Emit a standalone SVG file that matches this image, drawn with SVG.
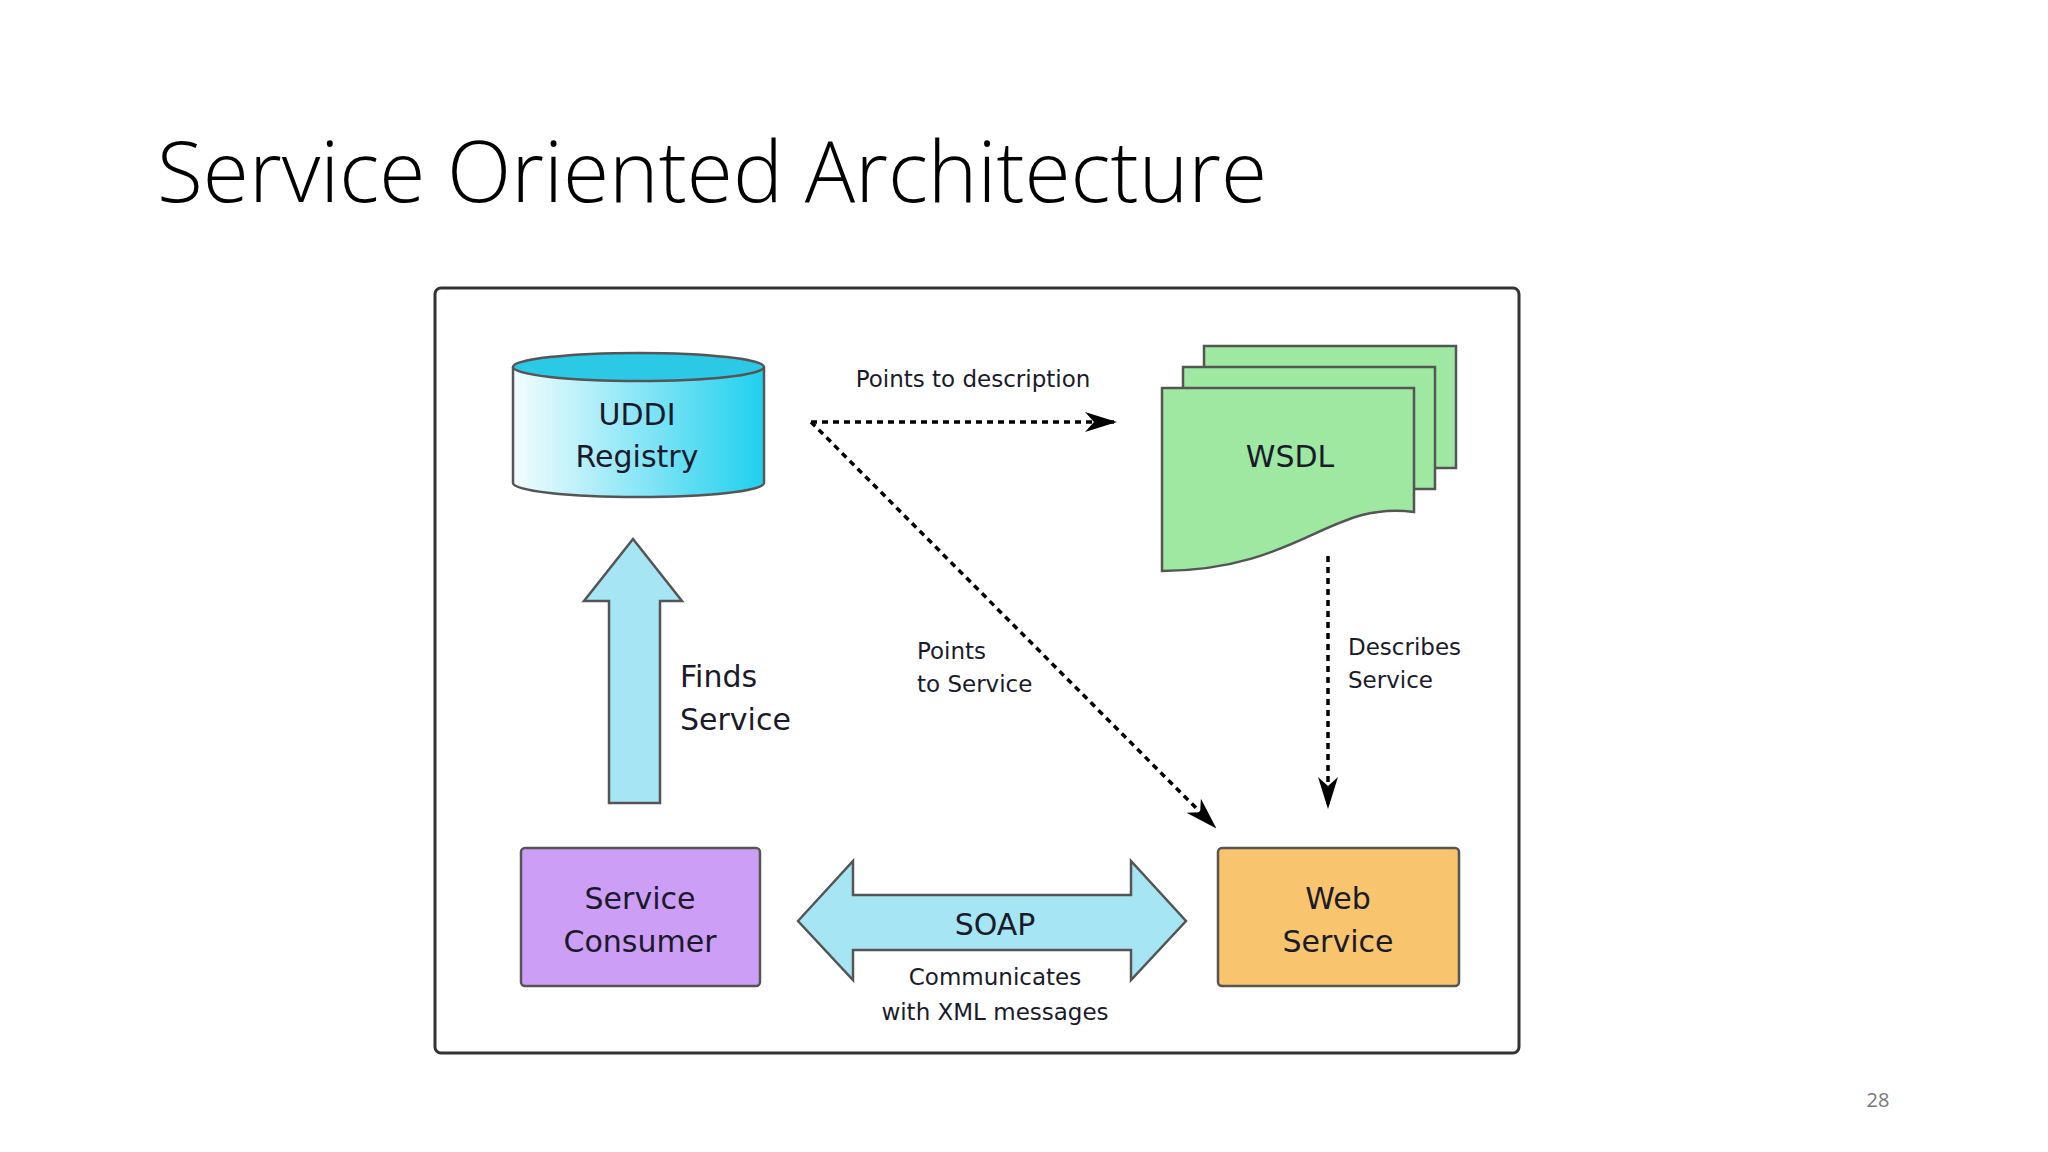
<svg xmlns="http://www.w3.org/2000/svg" width="2048" height="1152" viewBox="0 0 2048 1152">
<defs>
<linearGradient id="cyl" x1="0" x2="1" y1="0" y2="0"><stop offset="0" stop-color="#f4fcfe"/><stop offset="1" stop-color="#1fd0ee"/></linearGradient>
<marker id="ah" viewBox="0 0 32 20" refX="30" refY="10" markerWidth="32" markerHeight="20" markerUnits="userSpaceOnUse" orient="auto"><path d="M0,0 L32,10 L0,20 L9,10 Z" fill="#000"/></marker>
</defs>
<style>
text{font-family:"DejaVu Sans","Liberation Sans",sans-serif;fill:#1a1a2a;text-anchor:middle}
.n{font-size:30px}
.s{font-size:23px}
.l{font-size:23px;text-anchor:start}
.d{fill:none;stroke:#000;stroke-width:3.5;stroke-dasharray:6 5}
</style>
<rect width="2048" height="1152" fill="#fff"/>
<text x="157" y="202" style="font-family:'Open Sans','Liberation Sans',sans-serif;font-weight:300;font-size:84px;text-anchor:start;fill:#000">Service Oriented Architecture</text>
<text x="1878" y="1107" style="font-family:'Open Sans','Liberation Sans',sans-serif;font-size:20px;fill:#777">28</text>
<rect x="435" y="288" width="1084" height="765" rx="6" fill="#fff" stroke="#333" stroke-width="3"/>
<g id="connectors">
<path class="d" d="M811,422 L1115,422" marker-end="url(#ah)"/>
<path class="d" d="M811,422 L1215,827" marker-end="url(#ah)"/>
<path class="d" d="M1328,556 L1328,807" marker-end="url(#ah)"/>
<text class="s" x="973" y="387">Points to description</text>
<text class="l" x="917" y="659">Points</text>
<text class="l" x="917" y="692">to Service</text>
<text class="l" x="1348" y="655">Describes</text>
<text class="l" x="1348" y="688">Service</text>
</g>
<g id="finds">
<path d="M609,803 L609,601 L584,601 L633,539 L682,601 L660,601 L660,803 Z" fill="#a6e6f4" stroke="#555" stroke-width="2.5"/>
<text class="n" x="680" y="687" style="text-anchor:start">Finds</text>
<text class="n" x="680" y="730" style="text-anchor:start">Service</text>
</g>
<g id="soap">
<path d="M798,921 L853,861 L853,895 L1131,895 L1131,861 L1186,921 L1131,980 L1131,950 L853,950 L853,980 Z" fill="#a6e6f4" stroke="#555" stroke-width="2.5"/>
<text class="n" x="995" y="935">SOAP</text>
<text class="s" x="995" y="985">Communicates</text>
<text class="s" x="995" y="1020">with XML messages</text>
</g>
<g id="uddi">
<path d="M513,367 L513,483 A125,14 0 0 0 764,483 L764,367" fill="url(#cyl)" stroke="#555" stroke-width="2.5"/>
<ellipse cx="638.5" cy="367" rx="125.5" ry="14" fill="#2cc9e6" stroke="#555" stroke-width="2.5"/>
<text class="n" x="637" y="425">UDDI</text>
<text class="n" x="637" y="467">Registry</text>
</g>
<g id="wsdl">
<path d="M1204,346 L1456,346 L1456,468 L1204,468 Z" fill="#9ee8a2" stroke="#555" stroke-width="2.5"/>
<path d="M1183,367 L1435,367 L1435,489 L1183,489 Z" fill="#9ee8a2" stroke="#555" stroke-width="2.5"/>
<path d="M1162,388 L1414,388 L1414,512 C1330,500 1300,570 1162,571 Z" fill="#9ee8a2" stroke="#555" stroke-width="2.5"/>
<text class="n" x="1290" y="467">WSDL</text>
</g>
<g id="consumer">
<rect x="521" y="848" width="239" height="138" rx="4" fill="#cc9ef6" stroke="#555" stroke-width="2.5"/>
<text class="n" x="640" y="909">Service</text>
<text class="n" x="640" y="952">Consumer</text>
</g>
<g id="webservice">
<rect x="1218" y="848" width="241" height="138" rx="4" fill="#f8c56e" stroke="#555" stroke-width="2.5"/>
<text class="n" x="1338" y="909">Web</text>
<text class="n" x="1338" y="952">Service</text>
</g>
</svg>
